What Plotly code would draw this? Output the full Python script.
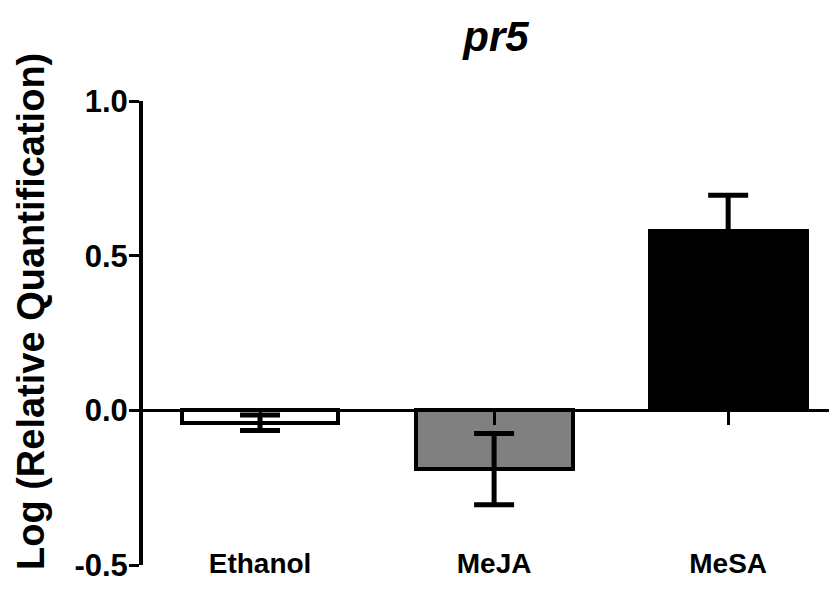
import plotly.graph_objects as go

categories = ["Ethanol", "MeJA", "MeSA"]
values = [-0.04, -0.19, 0.58]
errors = [0.025, 0.115, 0.115]
bar_colors = ["#ffffff", "#808080", "#000000"]
y_tickvals = [-0.5, 0.0, 0.5, 1.0]
y_ticktext = ["-0.5", "0.0", "0.5", "1.0"]
title_text = "<b><i>pr5</i></b>"
y_title = "<b>Log (Relative Quantification)</b>"

FONT = "Liberation Sans, Arial, sans-serif"
xpos = list(range(len(categories)))

# page has an 8px body margin; figure coords = page coords - 8
OFF = 8
W, H = 837, 595
L = 143 - OFF
T = 101 - OFF
R = OFF
B = H - (565 - OFF)
plot_w = W - L - R
plot_h = H - T - B
x_range = [-0.5, 2.465]

fig = go.Figure()
fig.add_trace(go.Bar(
    x=xpos, y=values, width=0.67,
    marker=dict(color=bar_colors, line=dict(color="black", width=4)),
    error_y=dict(type="data", array=errors, visible=True,
                 color="black", thickness=5, width=20),
    showlegend=False, hoverinfo="skip",
))
# invisible trace on the zero-line axis
fig.add_trace(go.Scatter(x=xpos, y=[0, 0, 0], xaxis="x2", mode="markers",
                         marker=dict(opacity=0), showlegend=False, hoverinfo="skip"))

fig.update_layout(
    width=W, height=H, autosize=False,
    margin=dict(l=L, r=R, t=T, b=B, pad=0),
    plot_bgcolor="white", paper_bgcolor="white",
    font=dict(family=FONT, color="black"),
    bargap=0,
    title=dict(text=title_text, x=(496 - OFF) / W, y=1 - (36 - OFF) / H,
               xanchor="center", yanchor="middle",
               font=dict(size=42, family=FONT, color="black")),
    xaxis=dict(
        range=x_range, tickvals=xpos, ticktext=[f"<b>{c}</b>" for c in categories],
        anchor="free", position=0.045, showline=False, ticks="", showgrid=False,
        zeroline=False, tickfont=dict(size=28, family=FONT, color="black"),
    ),
    xaxis2=dict(
        range=x_range, tickvals=xpos, overlaying="x", anchor="free",
        position=1 / 3, showticklabels=False, showline=True, linecolor="black",
        linewidth=3, ticks="outside", ticklen=13, tickwidth=3, tickcolor="black",
        showgrid=False, zeroline=False,
    ),
    yaxis=dict(
        range=[-0.5, 1.0], tickvals=y_tickvals,
        ticktext=[f"<b>{t}</b>" for t in y_ticktext],
        showline=True, linecolor="black", linewidth=4,
        ticks="outside", ticklen=10, tickwidth=3, tickcolor="black",
        showgrid=False, zeroline=False, ticklabelstandoff=-5,
        tickfont=dict(size=31, family=FONT, color="black"),
    ),
    annotations=[dict(
        text=y_title, textangle=-90, xref="paper", yref="paper",
        x=(31 - OFF - L) / plot_w, y=(H - B - (312 - OFF)) / plot_h,
        xanchor="center", yanchor="middle", showarrow=False,
        font=dict(size=38, family=FONT, color="black"),
    )],
)

fig.write_html("out.html")
